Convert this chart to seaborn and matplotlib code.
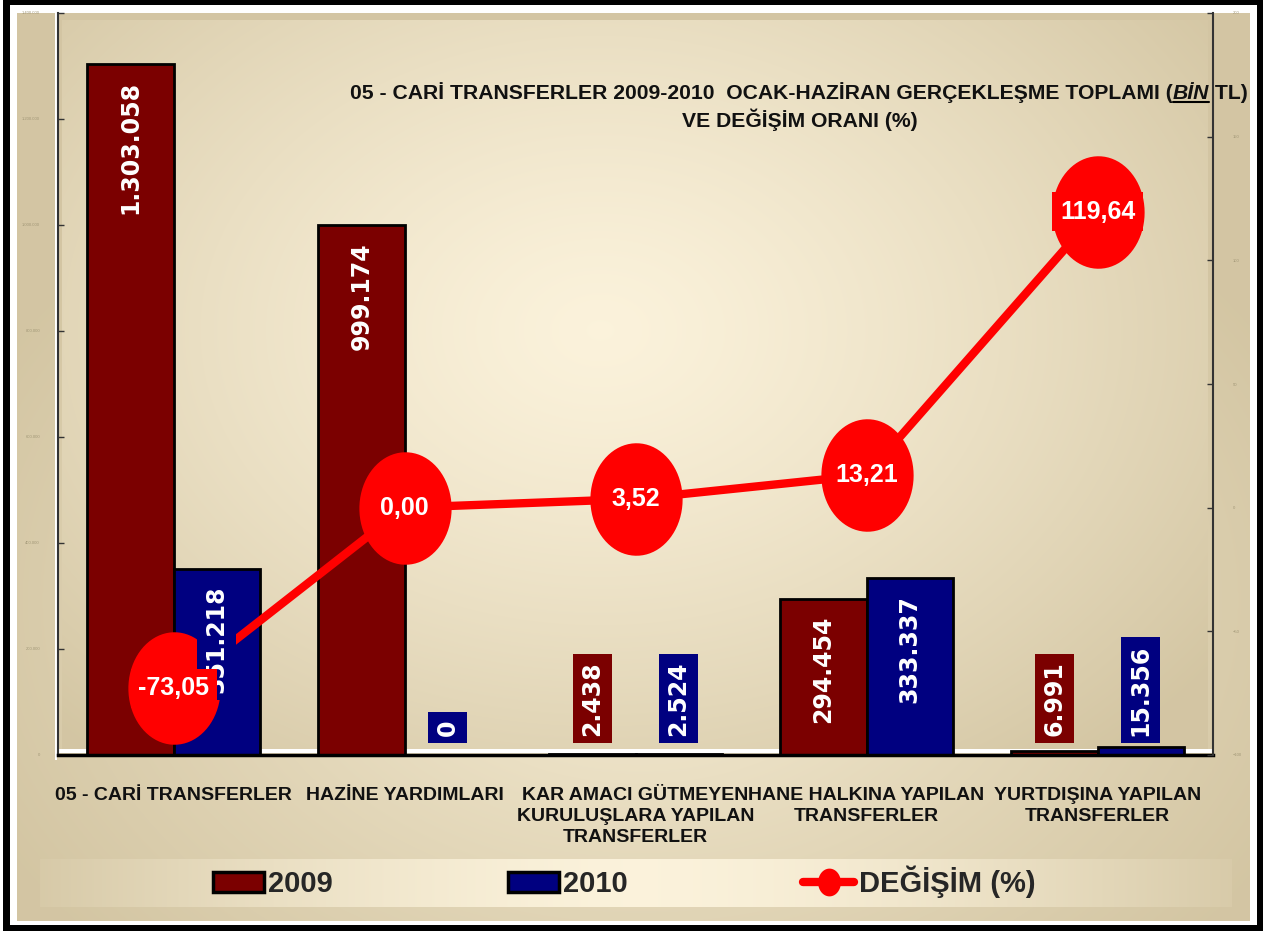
import numpy as np
import pandas as pd
import seaborn as sns
import matplotlib
matplotlib.use("Agg")
import matplotlib.pyplot as plt
from matplotlib.path import Path
from matplotlib.patches import Patch
from matplotlib.lines import Line2D

# veriler
kategoriler = ["05 - CARİ TRANSFERLER", "HAZİNE YARDIMLARI",
               "KAR AMACI GÜTMEYEN\nKURULUŞLARA YAPILAN\nTRANSFERLER",
               "HANE HALKINA YAPILAN\nTRANSFERLER", "YURTDIŞINA YAPILAN\nTRANSFERLER"]
yil_2009 = [1303058, 999174, 2438, 294454, 6991]
yil_2010 = [351218, 0, 2524, 333337, 15356]
degisim = [-73.05, 0.00, 3.52, 13.21, 119.64]
yillar = ["2009", "2010"]
renkler = ["#7b0000", "#000080"]

sns.set_theme(style="white")
FONT = ["Liberation Sans", "DejaVu Sans"]
plt.rcParams["font.family"] = FONT

W, H = 1279, 931
fig = plt.figure(figsize=(W / 100, H / 100), dpi=100)
fig.patch.set_facecolor("white")

# arka plan (çerçeve + degrade)
yy, xx = np.mgrid[0:H, 0:W]
tan = np.array([0.83, 0.776, 0.64])
krem = np.array([0.985, 0.95, 0.86])
img = np.ones((H, W, 3))
t = np.clip(np.sqrt(((xx - 640) / 720) ** 2 + ((yy - 600) / 520) ** 2), 0, 1) ** 0.8
panel = krem * (1 - t[..., None]) + tan * t[..., None]
m = (xx >= 17) & (xx < 1250) & (yy >= 13) & (yy < 921)
img[m] = panel[m]
t2 = np.clip(np.sqrt(((xx - 600) / 760) ** 2 + ((yy - 330) / 560) ** 2), 0, 1) ** 1.3
plot_bg = krem * (1 - t2[..., None]) + tan * t2[..., None]
m2 = (xx >= 62) & (xx < 1208) & (yy >= 20) & (yy < 749)
img[m2] = plot_bg[m2]
# lejant bandı
t3 = np.clip(np.abs(xx - 640) / 640, 0, 1) ** 1.5
band = krem * (1 - t3[..., None]) + tan * t3[..., None]
m3 = (xx >= 40) & (xx < 1232) & (yy >= 859) & (yy < 907)
img[m3] = band[m3]
img[(xx >= 55) & (xx < 57) & (yy >= 13) & (yy < 760)] = 1.0
img[(yy >= 749) & (yy < 753) & (xx >= 57) & (xx < 1213)] = 1.0
# siyah çerçeve
img[0:5, 3:1263] = 0
img[925:931, 3:1263] = 0
img[:, 3:10] = 0
img[:, 1257:1263] = 0

bg = fig.add_axes([0, 0, 1, 1], zorder=-5)
bg.imshow(img, aspect="auto", interpolation="bilinear")
bg.axis("off")

ax = fig.add_axes([58 / W, 1 - 755 / H, (1213 - 58) / W, (755 - 13) / H])
ax.patch.set_visible(False)

df = pd.DataFrame({
    "kategori": kategoriler * 2,
    "deger": yil_2009 + yil_2010,
    "yil": [yillar[0]] * 5 + [yillar[1]] * 5,
})
sns.barplot(data=df, x="kategori", y="deger", hue="yil", palette=renkler,
            saturation=1, width=0.745, edgecolor="black", linewidth=2,
            legend=False, ax=ax)
ax.set_ylim(0, 1400000)
ax.set_yticks(np.arange(0, 1400001, 200000))
ax.set_yticklabels([f"{v:,}".replace(",", ".") for v in range(0, 1400001, 200000)])
ax.set_xlabel("")
ax.set_ylabel("")
ax.set_xticks(np.arange(-0.5, 5, 1), minor=True)
ax.tick_params(axis="x", which="major", length=0, pad=23, labelsize=14)
ax.tick_params(axis="x", which="minor", direction="inout", length=12, width=1, color="black")
ax.tick_params(axis="y", direction="in", length=4, width=1, color="#333333",
               labelsize=3, labelcolor="#a09676", pad=13, left=True)
for lab in ax.get_xticklabels():
    lab.set_fontweight("bold")
    lab.set_linespacing(1.3)
    lab.set_color("#111111")
ax.spines["top"].set_visible(False)
ax.spines["right"].set_visible(False)
ax.spines["left"].set_color("#333333")
ax.spines["left"].set_linewidth(1.5)
ax.spines["bottom"].set_color("black")
ax.spines["bottom"].set_linewidth(2.5)

# değişim çizgisi
th = np.linspace(0, 2 * np.pi, 80)
elips = Path(np.column_stack([0.82 * np.cos(th), np.sin(th)]), closed=True)
ax2 = ax.twinx()
ax2.patch.set_visible(False)
sns.lineplot(x=np.arange(len(degisim)), y=degisim, ax=ax2, color="red", lw=6,
             marker=elips, markersize=81, markeredgewidth=0, zorder=2)
ax2.set_ylim(-100, 200)
ax2.set_yticks(np.arange(-100, 201, 50))
ax2.set_ylabel("")
ax2.tick_params(axis="y", direction="in", length=4, width=1, color="#333333",
                labelsize=3, labelcolor="#a09676", pad=14, right=True)
for s in ["top", "left", "bottom"]:
    ax2.spines[s].set_visible(False)
ax2.spines["right"].set_color("#333333")
ax2.spines["right"].set_linewidth(1.5)
ax.set_xlim(-0.5, len(kategoriler) - 0.5)

# çubuk etiketleri
for cont, vals, c in zip(ax.containers, [yil_2009, yil_2010], renkler):
    for bar, v in zip(cont, vals):
        x = bar.get_x() + bar.get_width() / 2
        lab = f"{v:,}".replace(",", ".")
        kw = dict(xycoords=ax.transData, textcoords="offset points", rotation=90,
                  ha="center", color="white", fontsize=17, fontweight="bold",
                  family="DejaVu Sans", zorder=3,
                  bbox=dict(boxstyle="square,pad=0.3", fc=c, ec="none"))
        if v > 100000:
            ax2.annotate(lab, xy=(x, v), xytext=(0, -12), va="top", **kw)
        else:
            ax2.annotate(lab, xy=(x, 0), xytext=(0, 14), va="bottom", **kw)

# değişim etiketleri
for i, v in enumerate(degisim):
    ax2.annotate(f"{v:.2f}".replace(".", ","), xy=(i, v), ha="center", va="center",
                 color="white", fontsize=18, fontweight="bold", family="Liberation Sans",
                 zorder=4, bbox=dict(boxstyle="square,pad=0.3", fc="red", ec="none"))

# başlık
r = fig.canvas.get_renderer()
tf = dict(fontsize=15.2, fontweight="bold", va="baseline", ha="left", family=FONT, color="#111111")
y1 = 1 - 99 / H
p1 = fig.text(350 / W, y1, "05 - CARİ TRANSFERLER 2009-2010  OCAK-HAZİRAN GERÇEKLEŞME TOPLAMI (", **tf)
b1 = p1.get_window_extent(r)
p2 = fig.text(b1.x1 / W, y1, "BİN", style="italic", **tf)
b2 = p2.get_window_extent(r)
p3 = fig.text(b2.x1 / W, y1, " TL)", **tf)
fig.add_artist(Line2D([b2.x0 / W, b2.x1 / W], [y1 - 3 / H, y1 - 3 / H],
                      color="black", lw=1.5, transform=fig.transFigure))
fig.text(800 / W, 1 - 127 / H, "VE DEĞİŞİM ORANI (%)", fontsize=15.2, fontweight="bold",
         va="baseline", ha="center", family=FONT, color="#111111")

# lejant
handles = [Patch(facecolor=renkler[0], edgecolor="black", lw=2.5),
           Patch(facecolor=renkler[1], edgecolor="black", lw=2.5),
           Line2D([], [], color="red", lw=6, marker=elips, markersize=20, markeredgewidth=0)]
fig.legend(handles, ["2009", "2010", "DEĞİŞİM (%)"], loc="center",
           bbox_to_anchor=(624 / W, 1 - 882 / H), ncol=3, frameon=False,
           prop=dict(family=FONT, weight="bold", size=21),
           handlelength=1.75, handleheight=0.7, handletextpad=0.15, columnspacing=6.0)

fig.savefig("out.png", dpi=100)
